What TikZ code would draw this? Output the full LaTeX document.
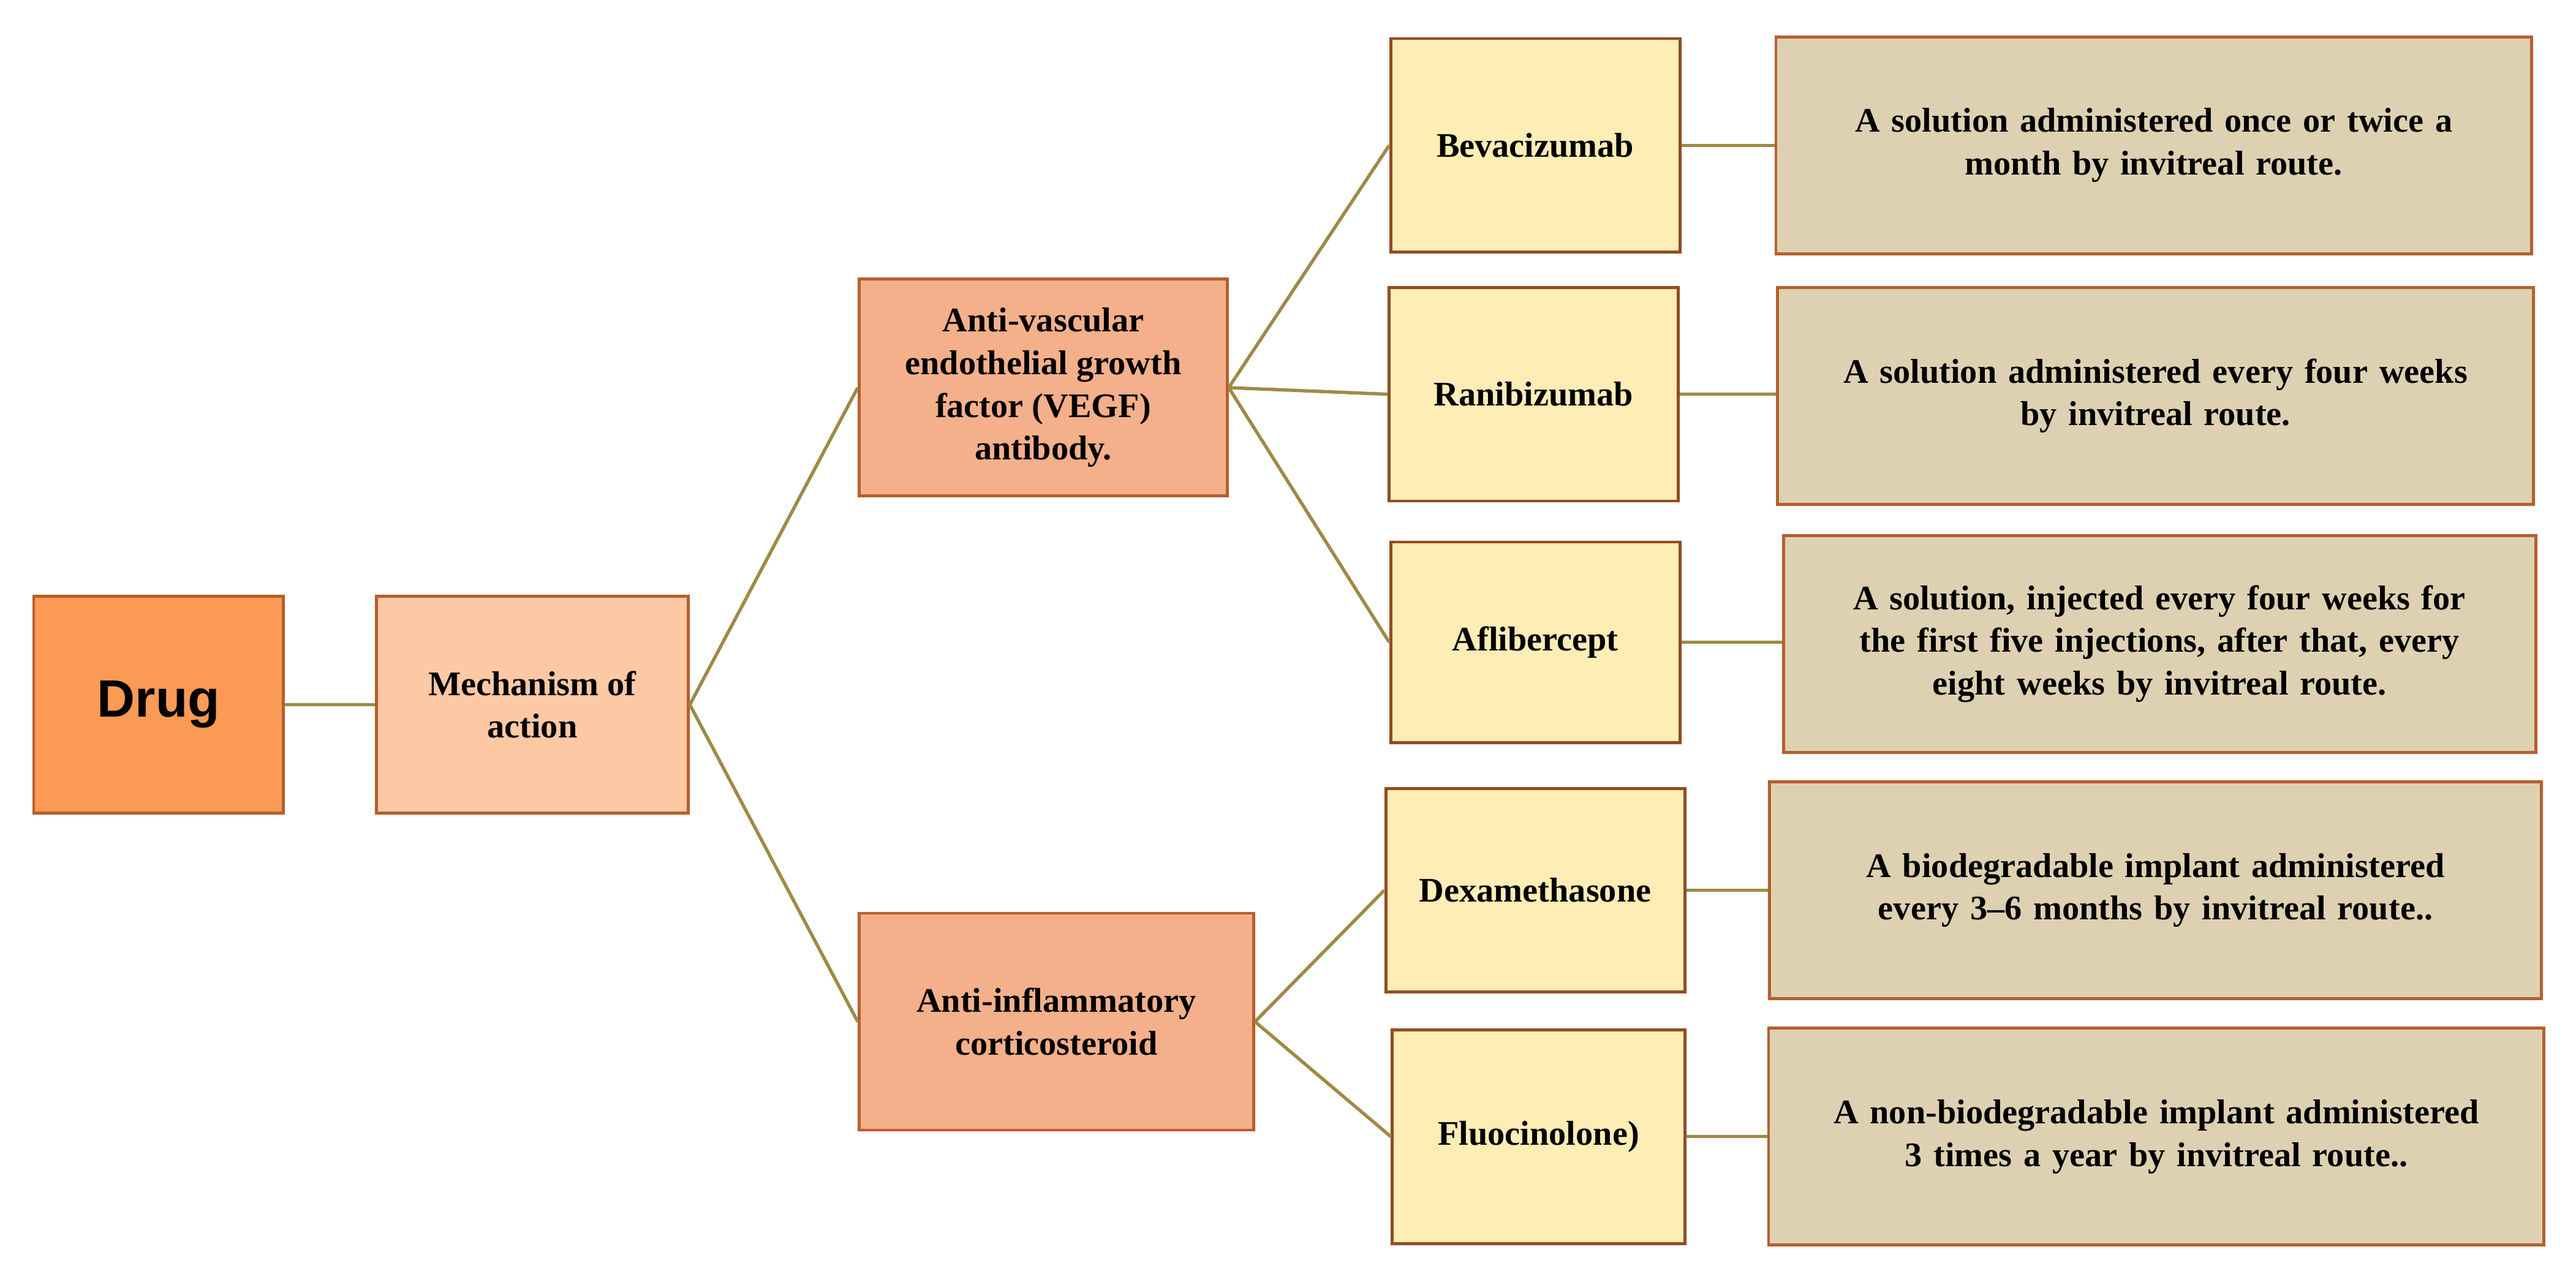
\documentclass[tikz,border=0pt]{standalone}
\usepackage{fontspec}
\setmainfont{Liberation Serif}
\newfontfamily\sans{Liberation Sans}
\definecolor{ln}{HTML}{9E8A45}
\definecolor{cdrug}{HTML}{FA9A55}
\definecolor{cmech}{HTML}{FDC9A5}
\definecolor{cmid}{HTML}{F4B08A}
\definecolor{citem}{HTML}{FEEDB5}
\definecolor{cdesc}{HTML}{DED1B2}
\definecolor{bd}{HTML}{B5602E}
\begin{document}
\begin{tikzpicture}[x=0.5pt,y=-0.5pt,
 box/.style={draw=bd,line width=0.9pt,align=center,font=\bfseries\fontsize{10.5}{13}\selectfont,inner sep=2pt},
 item/.style={box,fill=citem,draw=bd!80!black,minimum width=88pt,minimum height=65pt},
 desc/.style={box,fill=cdesc,minimum width=230pt,minimum height=66pt,text width=225pt},
 con/.style={draw=ln,line width=1pt}]
\useasboundingbox (0,0) rectangle (1568,782);
\node[box,fill=cdrug,minimum width=76pt,minimum height=66pt,font=\sans\bfseries\fontsize{16}{19}\selectfont] (drug) at (96.5,429) {Drug};
\node[box,fill=cmech,minimum width=95pt,minimum height=66pt] (mech) at (324,429) {Mechanism of\\action};
\node[box,fill=cmid,minimum width=112pt,minimum height=66pt] (vegf) at (635,236) {Anti-vascular\\endothelial growth\\factor (VEGF)\\antibody.};
\node[box,fill=cmid,minimum width=120pt,minimum height=66pt] (inf) at (643,622) {Anti-inflammatory\\corticosteroid};
\node[item] (bev) at (934.5,88.5) {Bevacizumab};
\node[item] (ran) at (933.5,240) {Ranibizumab};
\node[item,minimum height=61pt] (afl) at (934.5,391) {Aflibercept};
\node[item,minimum width=91pt,minimum height=62pt] (dex) at (934.5,542) {Dexamethasone};
\node[item,minimum width=89pt] (flu) at (936.5,692) {Fluocinolone)};
\node[desc] (d1) at (1311,88.5) {A solution administered once or twice a\\month by invitreal route.};
\node[desc] (d2) at (1312,241) {A solution administered every four weeks\\by invitreal route.};
\node[desc,minimum width=227pt] (d3) at (1314.5,392) {A solution, injected every four weeks for\\the first five injections, after that, every\\eight weeks by invitreal route.};
\node[desc,minimum width=235pt] (d4) at (1312,542) {A biodegradable implant administered\\every 3--6 months by invitreal route..};
\node[desc,minimum width=232pt,text width=232pt] (d5) at (1312.5,692) {A non-biodegradable implant administered\\3 times a year by invitreal route..};
\draw[con] (drug.east) -- (mech.west);
\draw[con] (mech.east) -- (vegf.west);
\draw[con] (mech.east) -- (inf.west);
\draw[con] (vegf.east) -- (bev.west);
\draw[con] (vegf.east) -- (ran.west);
\draw[con] (vegf.east) -- (afl.west);
\draw[con] (inf.east) -- (dex.west);
\draw[con] (inf.east) -- (flu.west);
\foreach \a/\b in {bev/d1,ran/d2,afl/d3,dex/d4,flu/d5} \draw[con] (\a.east) -- (\b.west|-\a.east);
\end{tikzpicture}
\end{document}
